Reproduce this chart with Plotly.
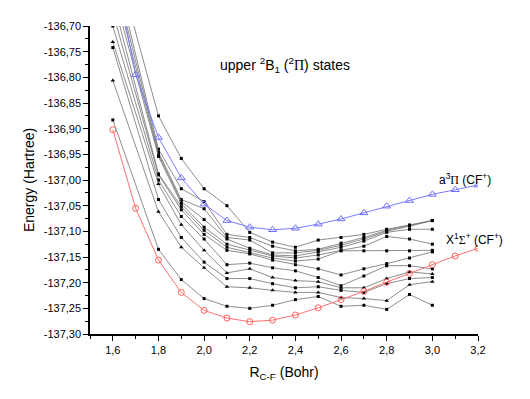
import plotly.graph_objects as go

# ---- data ----
x_black = [1.6, 1.8, 1.9, 2.0, 2.1, 2.2, 2.3, 2.4, 2.5, 2.6, 2.7, 2.8, 2.9, 3.0]
black_series = [
    [-136.550, -136.875, -136.958, -137.017, -137.050, -137.102, -137.121, -137.131, -137.117, -137.112, -137.106, -137.096, -137.088, -137.079],
    [-136.571, -136.940, -137.017, -137.042, -137.106, -137.112, -137.129, -137.138, -137.135, -137.123, -137.112, -137.098, -137.088, -137.079],
    [-136.590, -136.946, -137.038, -137.056, -137.112, -137.117, -137.142, -137.142, -137.137, -137.127, -137.115, -137.100, -137.090, -137.079],
    [-136.610, -136.950, -137.042, -137.077, -137.115, -137.133, -137.146, -137.148, -137.140, -137.131, -137.119, -137.102, -137.096, -137.096],
    [-136.629, -136.954, -137.046, -137.092, -137.125, -137.137, -137.148, -137.152, -137.146, -137.137, -137.129, -137.110, -137.115, -137.125],
    [-136.648, -136.988, -137.052, -137.098, -137.131, -137.142, -137.152, -137.158, -137.154, -137.138, -137.138, -137.138, -137.138, -137.137],
    [-136.673, -136.990, -137.058, -137.106, -137.137, -137.144, -137.156, -137.165, -137.173, -137.185, -137.173, -137.163, -137.152, -137.140],
    [-136.700, -137.000, -137.071, -137.115, -137.165, -137.162, -137.171, -137.177, -137.190, -137.206, -137.187, -137.167, -137.167, -137.173],
    [-136.731, -137.008, -137.087, -137.137, -137.181, -137.173, -137.190, -137.196, -137.198, -137.210, -137.210, -137.192, -137.179, -137.183],
    [-136.742, -137.038, -137.112, -137.160, -137.192, -137.192, -137.202, -137.210, -137.208, -137.215, -137.219, -137.202, -137.192, -137.190],
    [-136.806, -137.062, -137.131, -137.171, -137.208, -137.210, -137.215, -137.219, -137.219, -137.229, -137.231, -137.235, -137.204, -137.198],
    [-136.883, -137.135, -137.194, -137.231, -137.246, -137.250, -137.244, -137.233, -137.227, -137.246, -137.244, -137.252, -137.223, -137.244],
]
black_symbols = ["square", "square", "square", "square", "square", "square", "square",
                 "square", "triangle-up", "square", "triangle-up", "square"]

x_cf = [1.6, 1.7, 1.8, 1.9, 2.0, 2.1, 2.2, 2.3, 2.4, 2.5, 2.6, 2.7, 2.8, 2.9, 3.0, 3.1, 3.2]
a3pi = [-136.570, -136.795, -136.917, -136.996, -137.047, -137.079, -137.092, -137.097, -137.094,
        -137.086, -137.076, -137.064, -137.051, -137.040, -137.028, -137.019, -137.010]
x1sigma = [-136.902, -137.055, -137.156, -137.219, -137.254, -137.269, -137.276, -137.273, -137.263,
           -137.249, -137.233, -137.217, -137.199, -137.182, -137.165, -137.148, -137.133]

x_ticks = [1.6, 1.8, 2.0, 2.2, 2.4, 2.6, 2.8, 3.0, 3.2]
x_tick_labels = ["1,6", "1,8", "2,0", "2,2", "2,4", "2,6", "2,8", "3,0", "3,2"]
y_ticks = [-136.70, -136.75, -136.80, -136.85, -136.90, -136.95, -137.00,
           -137.05, -137.10, -137.15, -137.20, -137.25, -137.30]
y_tick_labels = ["-136,70", "-136,75", "-136,80", "-136,85", "-136,90", "-136,95", "-137,00",
                 "-137,05", "-137,10", "-137,15", "-137,20", "-137,25", "-137,30"]

fig = go.Figure()

for ys, sym in zip(black_series, black_symbols):
    fig.add_trace(go.Scatter(
        x=x_black, y=ys, mode="lines+markers",
        line=dict(color="#707070", width=0.8),
        marker=dict(symbol=sym, size=3 if sym == "square" else 4, color="black"),
        showlegend=False, hoverinfo="skip"))

fig.add_trace(go.Scatter(
    x=x_cf, y=a3pi, mode="lines+markers",
    line=dict(color="#7b7bff", width=1),
    marker=dict(symbol="triangle-up-open", size=7, color="#6f6fff", line=dict(width=1)),
    showlegend=False))
fig.add_trace(go.Scatter(
    x=x_cf, y=x1sigma, mode="lines+markers",
    line=dict(color="#ff7070", width=1),
    marker=dict(symbol="circle-open", size=6, color="#ff6060", line=dict(width=1)),
    showlegend=False))

font_main = "Arial, Liberation Sans, sans-serif"
serif = "<span style='font-family:Liberation Serif'>%s</span>"

fig.update_layout(
    width=522, height=391,
    margin=dict(l=82, r=52, t=14, b=65),
    paper_bgcolor="white", plot_bgcolor="white",
    font=dict(family=font_main, color="black", size=11),
    xaxis=dict(
        range=[1.5, 3.2], tickvals=x_ticks, ticktext=x_tick_labels,
        showgrid=False, zeroline=False, showline=True, linecolor="black", linewidth=1.5,
        ticks="outside", ticklen=5, tickwidth=1.2, tickcolor="black",
        minor=dict(dtick=0.1, tick0=1.5, ticks="outside", ticklen=3, tickwidth=1, tickcolor="black"),
        tickfont=dict(size=11),
        title=dict(text="R<sub>C-F</sub> (Bohr)", font=dict(size=14), standoff=12),
    ),
    yaxis=dict(
        range=[-137.30, -136.70], tickvals=y_ticks, ticktext=y_tick_labels,
        showgrid=False, zeroline=False, showline=True, linecolor="black", linewidth=1.5,
        ticks="outside", ticklen=5, tickwidth=1.2, tickcolor="black",
        minor=dict(dtick=0.025, tick0=-137.30, ticks="outside", ticklen=3, tickwidth=1, tickcolor="black"),
        tickfont=dict(size=11),
        title=dict(text="Energy (Hartree)", font=dict(size=14), standoff=6),
    ),
    annotations=[
        dict(x=0.503, y=0.872, xref="paper", yref="paper", showarrow=False,
             xanchor="center", yanchor="middle",
             text="upper <sup>2</sup>B<sub>1</sub> (<sup>2</sup>" + (serif % "Π") + ") states",
             font=dict(size=14)),
        dict(x=0.966, y=0.503, xref="paper", yref="paper", showarrow=False,
             xanchor="center", yanchor="middle",
             text="a<sup>3</sup>" + (serif % "Π") + " (CF<sup>+</sup>)",
             font=dict(size=12)),
        dict(x=0.992, y=0.308, xref="paper", yref="paper", showarrow=False,
             xanchor="center", yanchor="middle",
             text="X<sup>1</sup>" + (serif % "Σ") + "<sup>+</sup> (CF<sup>+</sup>)",
             font=dict(size=12)),
    ],
)

fig.write_html("out.html")
